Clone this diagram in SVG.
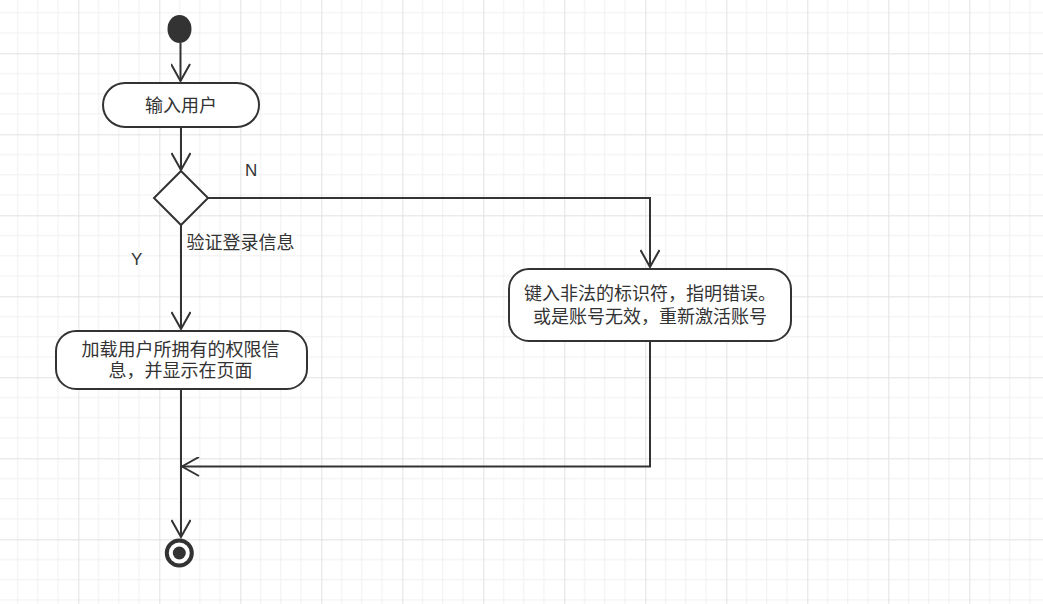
<svg xmlns="http://www.w3.org/2000/svg" width="1043" height="604" viewBox="0 0 1043 604">
<defs>
<pattern id="grid" patternUnits="userSpaceOnUse" x="78.3" y="53.3" width="81" height="81">
<path d="M0 20.25H81M0 40.5H81M0 60.75H81M20.25 0V81M40.5 0V81M60.75 0V81" stroke="#f0f0f0" stroke-width="1" fill="none"/>
<path d="M0 0.5H81M0.5 0V81" stroke="#e2e2e2" stroke-width="1" fill="none"/>
</pattern>
<marker id="open" viewBox="0 0 20 20" refX="18" refY="10" markerWidth="20" markerHeight="20" markerUnits="userSpaceOnUse" orient="auto">
<path d="M1 0.5L18 10L1 19.5" fill="none" stroke="#333" stroke-width="2"/>
</marker>
</defs>
<style>
.box{fill:#fff;stroke:#333;stroke-width:2}
.edge{fill:none;stroke:#333;stroke-width:2;marker-end:url(#open)}
.t{font-family:"Liberation Sans","Noto Sans CJK SC",sans-serif;font-size:18px;fill:#333}
.l{font-size:17px}
.c{text-anchor:middle}
</style>
<rect width="1043" height="604" fill="#fff"/>
<rect width="1043" height="604" fill="url(#grid)"/>
<g id="connectors">
<path class="edge" d="M180.5 43V81"/>
<path class="edge" d="M181 127V170"/>
<path class="edge" d="M181 225V329"/>
<path class="edge" d="M208 198H650V267"/>
<path class="edge" d="M181 389V537"/>
<path class="edge" d="M650 341V466.5H182"/>
</g>
<g id="start"><ellipse cx="179.5" cy="29" rx="12" ry="14" fill="#333"/></g>
<g id="input-user">
<rect class="box" x="103" y="83" width="156" height="44" rx="22"/>
<text class="t c" x="181" y="112">输入用户</text>
</g>
<g id="decision">
<path class="box" d="M181 171L208 198L181 225L154 198Z"/>
</g>
<g id="labels">
<text class="t l" x="245" y="176">N</text>
<text class="t l" x="131" y="265">Y</text>
<text class="t" x="186.5" y="249">验证登录信息</text>
</g>
<g id="error">
<rect class="box" x="509" y="269" width="282" height="72" rx="20"/>
<text class="t c" x="650" y="300">键入非法的标识符，指明错误。</text>
<text class="t c" x="650" y="323">或是账号无效，重新激活账号</text>
</g>
<g id="load">
<rect class="box" x="56" y="331" width="251" height="58" rx="20"/>
<text class="t c" x="180.5" y="356">加载用户所拥有的权限信</text>
<text class="t c" x="180.5" y="377">息，并显示在页面</text>
</g>
<g id="end">
<circle cx="179.3" cy="553" r="12.5" fill="#fff" stroke="#333" stroke-width="4"/>
<circle cx="179.3" cy="553" r="6.5" fill="#333"/>
</g>
</svg>
